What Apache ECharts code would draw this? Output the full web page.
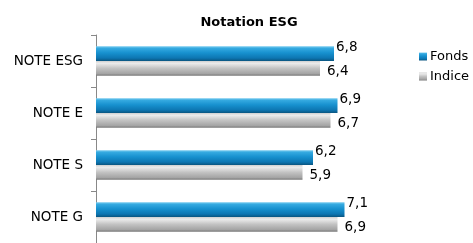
<!DOCTYPE html>
<html>
<head>
<meta charset="utf-8">
<script src="https://cdn.jsdelivr.net/npm/echarts@6/dist/echarts.min.js"></script>
<style>
html,body{margin:0;padding:0;background:#fff;}
#chart{width:473px;height:243px;}
</style>
</head>
<body>
<div id="chart"></div>
<script>
var title = 'Notation ESG';
var categories = ['NOTE ESG', 'NOTE E', 'NOTE S', 'NOTE G'];
var seriesNames = ['Fonds', 'Indice'];
var fondsValues = [6.8, 6.9, 6.2, 7.1];
var indiceValues = [6.4, 6.7, 5.9, 6.9];

var FONT = 'DejaVu Sans';
var blueGrad = new echarts.graphic.LinearGradient(0, 0, 0, 1, [
  {offset: 0, color: '#7ccdf0'},
  {offset: 0.15, color: '#34a9e0'},
  {offset: 0.45, color: '#1791cf'},
  {offset: 0.8, color: '#0d76b2'},
  {offset: 1, color: '#0a5580'}
]);
var grayGrad = new echarts.graphic.LinearGradient(0, 0, 0, 1, [
  {offset: 0, color: '#cfcfcf'},
  {offset: 0.15, color: '#ececec'},
  {offset: 0.5, color: '#c2c2c2'},
  {offset: 0.85, color: '#a4a4a4'},
  {offset: 1, color: '#767676'}
]);
function fmt(p){ return String(p.value).replace('.', ','); }

var chart = echarts.init(document.getElementById('chart'), null, {renderer: 'canvas'});
chart.setOption({
  animation: false,
  backgroundColor: '#ffffff',
  title: {
    text: title,
    left: 244, top: 11, textAlign: 'center',
    textStyle: {fontFamily: FONT, fontSize: 13, fontWeight: 'bold', color: '#000'}
  },
  legend: {
    orient: 'vertical',
    left: 414, top: 45,
    itemWidth: 8, itemHeight: 8, itemGap: 7,
    icon: 'rect',
    data: seriesNames,
    textStyle: {fontFamily: FONT, fontSize: 13, color: '#000', padding: [0, 0, 0, -2]}
  },
  grid: {left: 96, top: 35, right: 97, bottom: -11, containLabel: false},
  xAxis: {
    type: 'value', min: 0, max: 8,
    show: false
  },
  yAxis: {
    type: 'category',
    inverse: true,
    data: categories,
    axisLine: {show: true, lineStyle: {color: '#888', width: 1}},
    axisTick: {show: true, length: 5, lineStyle: {color: '#888'}},
    axisLabel: {fontFamily: FONT, fontSize: 13.5, color: '#000', margin: 13},
    splitLine: {show: false}
  },
  series: [
    {
      name: seriesNames[0], type: 'bar', data: fondsValues,
      barGap: '0%', barCategoryGap: '43%',
      itemStyle: {color: blueGrad},
      label: {show: true, position: 'right', distance: 2, offset: [0, -6],
        formatter: fmt, fontFamily: FONT, fontSize: 13.5, color: '#000'}
    },
    {
      name: seriesNames[1], type: 'bar', data: indiceValues,
      itemStyle: {color: grayGrad},
      label: {show: true, position: 'right', distance: 7, offset: [0, 3],
        formatter: fmt, fontFamily: FONT, fontSize: 13.5, color: '#000'}
    }
  ]
});
</script>
</body>
</html>
